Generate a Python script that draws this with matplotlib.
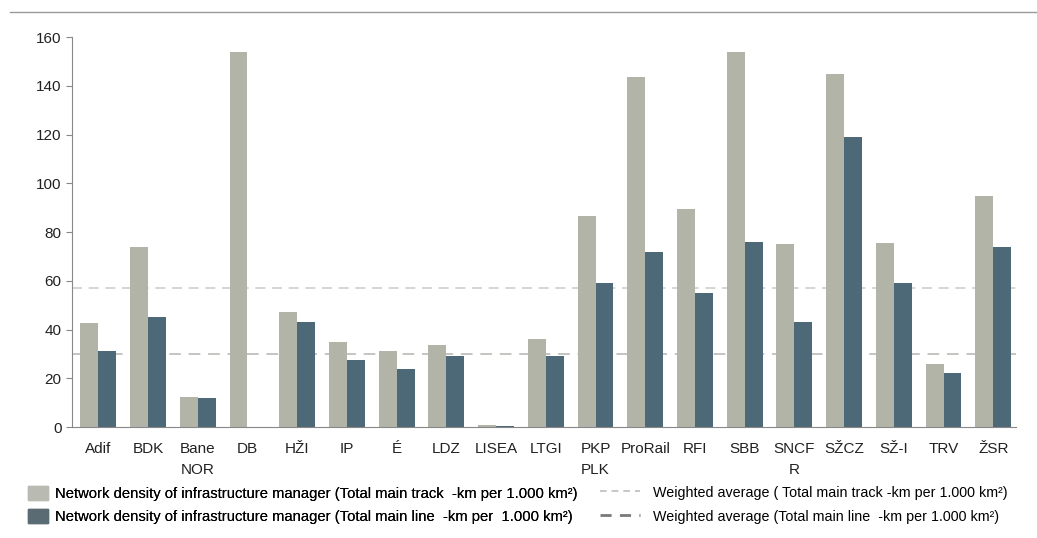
import numpy as np
import matplotlib
matplotlib.use("Agg")
import matplotlib.pyplot as plt
from matplotlib.lines import Line2D
from matplotlib.patches import Patch

plt.rcParams['font.family'] = ['Liberation Sans', 'DejaVu Sans']

# data
managers = ["Adif", "BDK", "Bane\nNOR", "DB", "HŽI", "IP", "É", "LDZ", "LISEA", "LTGI",
            "PKP\nPLK", "ProRail", "RFI", "SBB", "SNCF\nR", "SŽCZ", "SŽ-I", "TRV", "ŽSR"]
main_track = [42.5, 74, 12.5, 154, 47, 35, 31, 33.5, 0.7, 36,
              86.5, 143.5, 89.5, 154, 75, 145, 75.5, 26, 95]
main_line = [31, 45, 12, 0, 43, 27.5, 24, 29, 0.5, 29,
             59, 72, 55, 76, 43, 119, 59, 22, 74]
avg_track = 57
avg_line = 30

light = "#b3b4a8"
dark = "#4d6876"

fig = plt.figure(figsize=(10.37, 5.38), dpi=100)
ax = fig.add_axes([0.0694, 0.2063, 0.910, 0.7247])

x = np.arange(len(managers))
w = 0.36
ax.bar(x - w / 2, main_track, w, color=light, zorder=2)
ax.bar(x + w / 2, main_line, w, color=dark, zorder=2)

ax.axhline(avg_track, color="#cfcfca", lw=1.2, ls=(0, (6, 4)), zorder=1)
ax.axhline(avg_line, color="#c4c4c0", lw=1.4, ls=(0, (6, 4)), zorder=1)

ax.set_xlim(-0.53, len(managers) - 0.55)
ax.set_ylim(0, 160)
ax.set_yticks(range(0, 161, 20))
ax.set_xticks(x)
ax.set_xticklabels(managers, fontsize=11, color="#222222", linespacing=1.6)
ax.tick_params(axis="x", length=0, pad=11)
ax.tick_params(axis="y", labelsize=11, labelcolor="#222222", length=4, color="#888888")

for s in ["top", "right"]:
    ax.spines[s].set_visible(False)
ax.spines["left"].set_color("#888888")
ax.spines["bottom"].set_color("#888888")

# separator line at the top of the picture
fig.add_artist(Line2D([0.01, 1.0], [0.978, 0.978], color="#999999", lw=1))

h1 = [Patch(color="#b9bab2"), Patch(color="#5a6b74")]
l1 = ["Network density of infrastructure manager (Total main track  -km per 1.000 km²)",
      "Network density of infrastructure manager (Total main line  -km per  1.000 km²)"]
leg1 = fig.legend(h1, l1, loc="upper left", bbox_to_anchor=(0.0215, 0.108), frameon=False,
                  fontsize=10.6, handlelength=1.35, handleheight=1.1, labelspacing=0.55,
                  handletextpad=0.45, borderaxespad=0)
fig.add_artist(leg1)

h2 = [Line2D([], [], color="#bdbdbd", lw=1.2, ls=(0, (4, 3))),
      Line2D([], [], color="#7a7a7a", lw=2.0, ls=(0, (4, 3)))]
l2 = ["Weighted average ( Total main track -km per 1.000 km²)",
      "Weighted average (Total main line  -km per 1.000 km²)"]
fig.legend(h2, l2, loc="upper left", bbox_to_anchor=(0.573, 0.108), frameon=False,
           fontsize=10.3, handlelength=2.8, handleheight=1.1, labelspacing=0.6,
           handletextpad=0.9, borderaxespad=0)

fig.savefig("out.png", dpi=100)
